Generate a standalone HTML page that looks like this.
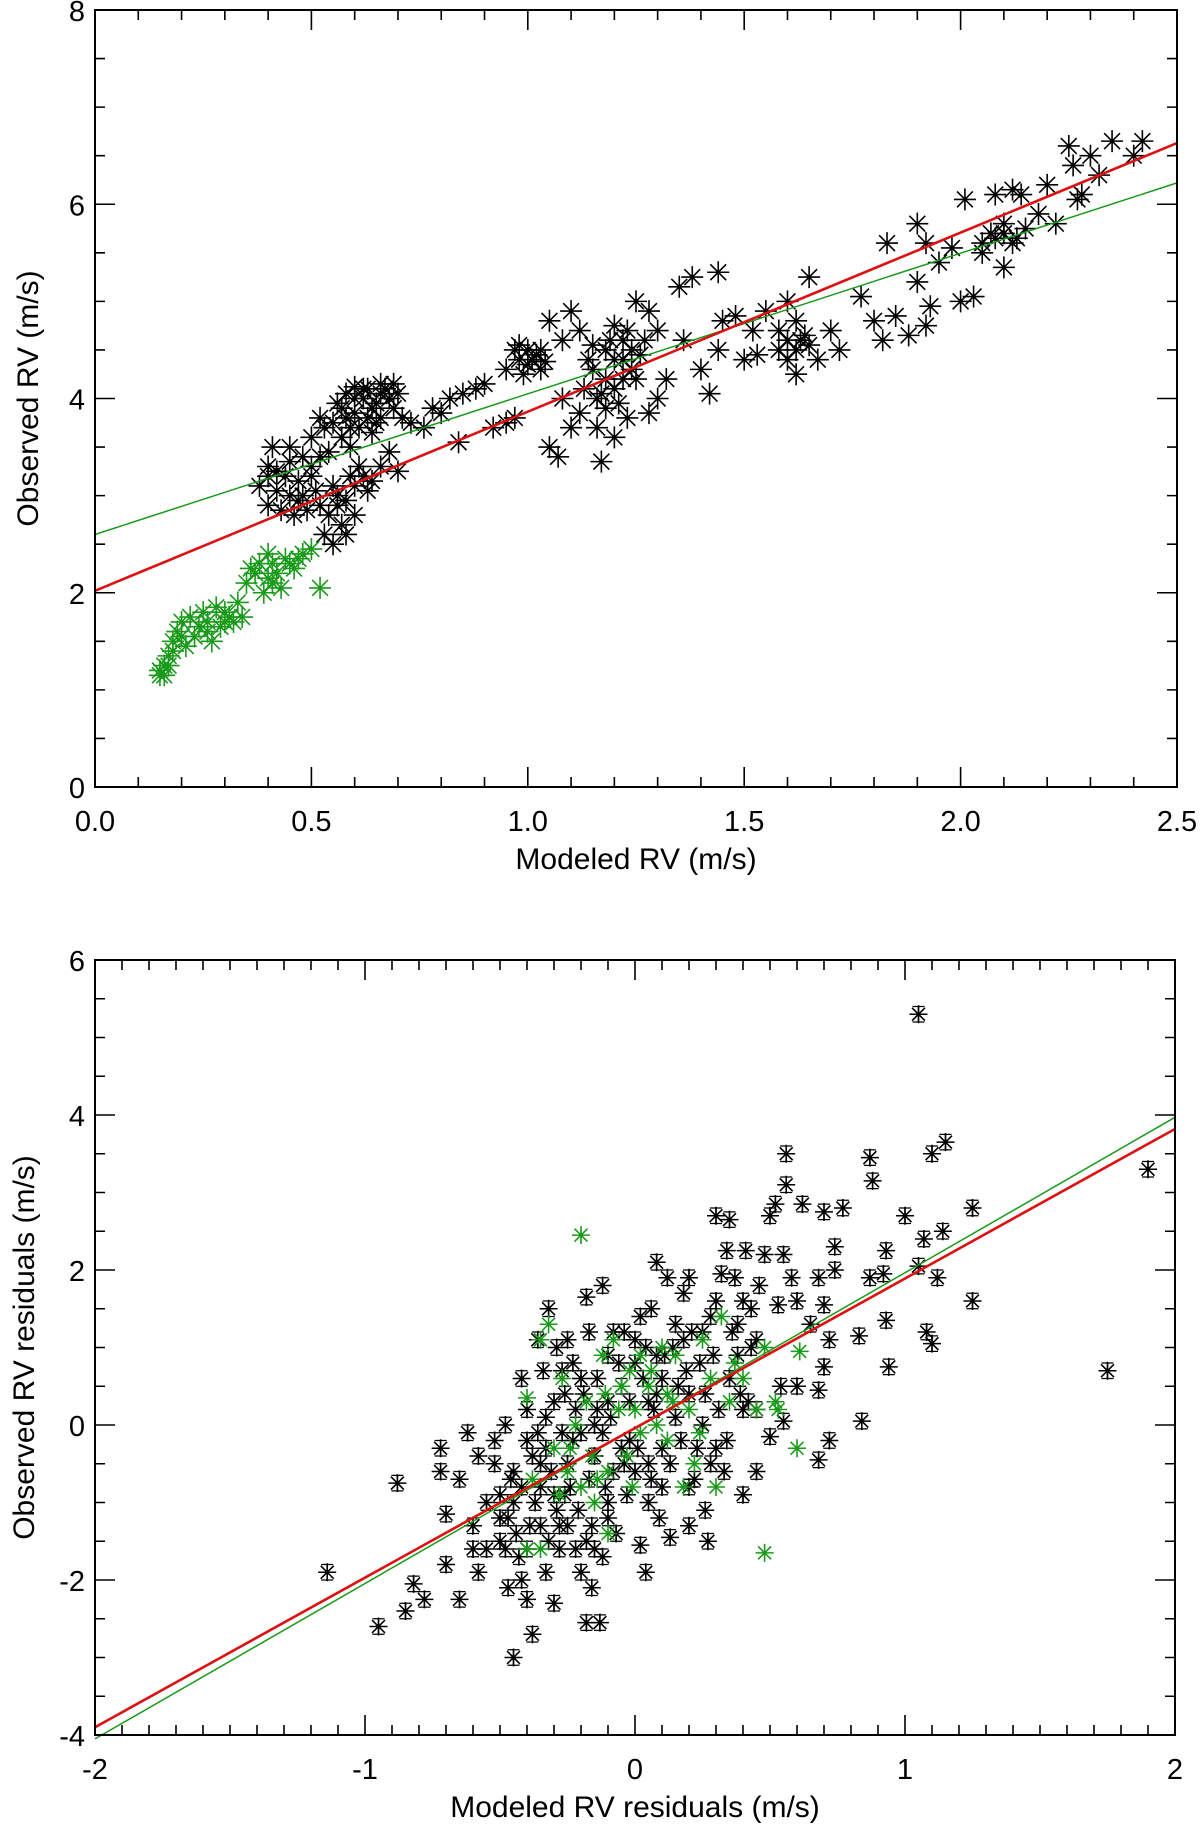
<!DOCTYPE html>
<html><head><meta charset="utf-8">
<style>
html,body{margin:0;padding:0;background:#fff;}
svg{display:block;font-family:"Liberation Sans",sans-serif;}
</style></head>
<body>
<svg id="fig" width="1200" height="1829" viewBox="0 0 1200 1829" xmlns="http://www.w3.org/2000/svg"></svg>
<script>
// ---- Panel 1 data ----
const topXTicks = ["0.0","0.5","1.0","1.5","2.0","2.5"];
const topYTicks = ["0","2","4","6","8"];
const topBlack = [[0.4,3.3],[0.42,3.25],[0.45,3.35],[0.38,3.1],[0.4,2.9],[0.43,2.85],[0.46,2.8],[0.48,3.0],[0.5,3.2],[0.52,2.9],[0.53,2.6],[0.55,2.5],[0.57,2.7],[0.58,2.95],[0.6,3.1],[0.62,3.2],[0.64,3.15],[0.66,3.3],[0.7,3.25],[0.68,3.45],[0.45,3.5],[0.5,3.6],[0.52,3.8],[0.55,3.75],[0.57,3.9],[0.58,4.05],[0.6,3.85],[0.62,4.0],[0.63,4.1],[0.65,3.95],[0.67,4.1],[0.69,4.15],[0.7,4.05],[0.66,3.8],[0.61,3.7],[0.64,3.65],[0.71,3.8],[0.73,3.75],[0.5,3.3],[0.47,3.15],[0.55,3.1],[0.41,3.5],[0.48,3.4],[0.59,3.5],[0.61,3.3],[0.56,3.0],[0.54,3.45],
[0.76,3.7],[0.78,3.9],[0.8,3.85],[0.82,4.0],[0.85,4.05],[0.88,4.1],[0.9,4.15],[0.84,3.55],[0.92,3.7],[0.95,3.75],[0.97,3.8],
[0.95,4.3],[0.98,4.4],[1.0,4.5],[1.02,4.45],[1.0,4.35],[0.97,4.5],[1.03,4.3],[1.05,4.8],[1.08,4.6],[1.1,4.9],[1.12,4.7],[1.05,3.5],[1.07,3.4],[1.1,3.7],[1.12,3.85],[1.08,4.0],[1.15,4.3],[1.18,4.5],[1.2,4.75],[1.22,4.4],[1.2,4.1],[1.18,3.9],[1.16,3.7],[1.17,3.35],[1.2,3.6],[1.23,3.8],[1.25,4.2],[1.27,4.6],[1.25,5.0],[1.28,4.9],[1.3,4.7],[1.32,4.2],[1.3,4.0],[1.28,3.85],[1.13,4.1],[1.15,4.55],[1.22,4.6],[1.24,4.3],[1.35,5.15],[1.38,5.25],[1.44,5.3],[1.36,4.6],[1.4,4.3],[1.42,4.05],[1.44,4.5],[1.45,4.8],[1.48,4.85],[1.5,4.4],[1.52,4.7],[1.55,4.9],[1.58,4.5],[1.6,5.0],[1.62,4.8],[1.63,4.6],[1.62,4.25],[1.65,5.25],[1.67,4.4],[1.7,4.7],[1.72,4.5],[1.65,4.55],[1.6,4.6],[1.53,4.45],
[1.77,5.05],[1.8,4.8],[1.83,5.6],[1.82,4.6],[1.85,4.85],[1.88,4.65],[1.9,5.8],[1.92,5.6],[1.9,5.2],[1.93,4.95],[1.92,4.75],[1.95,5.4],[1.98,5.55],[2.0,5.0],[2.01,6.05],[2.03,5.05],[2.05,5.6],[2.07,5.7],[2.08,6.1],[2.1,5.35],[2.12,6.15],[2.13,5.65],[2.1,5.8],[2.15,5.75],[2.18,5.9],[2.2,6.2],[2.22,5.8],[2.25,6.6],[2.26,6.4],[2.28,6.1],[2.3,6.5],[2.32,6.3],[2.35,6.65],[2.4,6.5],[2.42,6.65],[2.27,6.05],[2.14,6.1],[2.05,5.5],
[0.56,3.95],[0.58,3.8],[0.6,4.0],[0.62,4.1],[0.64,3.9],[0.66,4.05],[0.68,4.0],[0.69,3.9],[0.59,3.7],[0.63,3.8],[0.6,4.12],[0.66,4.15],[0.53,3.7],[0.57,3.6],[0.65,3.75],[0.42,3.05],[0.44,3.2],[0.47,2.95],[0.49,2.85],[0.51,3.05],[0.54,2.8],[0.56,2.9],[0.59,3.2],[0.63,3.05],[0.45,3.0],[0.4,3.2],[0.52,3.4],[0.6,2.8],[0.58,2.6],[0.98,4.55],[1.01,4.4],[1.03,4.5],[0.99,4.25],[1.04,4.38],[1.18,4.2],[1.2,4.4],[1.22,4.2],[1.19,4.6],[1.24,4.5],[1.21,3.95],[1.17,4.05],[1.23,4.7],[1.26,4.45],[1.14,4.4],[1.16,4.0],[1.62,4.5],[1.64,4.65],[1.6,4.4],[1.58,4.7],[2.1,5.7],[2.12,5.6],[2.08,5.65]];
const topGreen = [[0.15,1.15],[0.16,1.25],[0.17,1.35],[0.18,1.5],[0.19,1.6],[0.2,1.7],[0.21,1.45],[0.23,1.55],[0.24,1.65],[0.25,1.8],[0.26,1.7],[0.27,1.5],[0.28,1.85],[0.3,1.8],[0.31,1.75],[0.32,1.7],[0.33,1.9],[0.34,1.75],[0.35,2.1],[0.36,2.25],[0.38,2.3],[0.4,2.4],[0.41,2.1],[0.42,2.2],[0.43,2.05],[0.44,2.35],[0.45,2.3],[0.47,2.35],[0.48,2.4],[0.5,2.45],[0.52,2.05],[0.16,1.15],[0.22,1.75],[0.29,1.65],[0.39,2.0],[0.15,1.2],[0.17,1.25],[0.18,1.4],[0.2,1.55],[0.26,1.6],[0.3,1.7],[0.37,2.2],[0.4,2.15],[0.46,2.25],[0.41,2.3]];
const topRedFit = [[0,2.02],[2.5,6.63]];
const topGreenFit = [[0,2.6],[2.5,6.22]];

// ---- Panel 2 data ----
const botXTicks = ["-2","-1","0","1","2"];
const botYTicks = ["-4","-2","0","2","4","6"];
const botBlack = [[1.05,5.3],[1.9,3.3],[1.75,0.7],[-1.14,-1.9],[-0.95,-2.6],[-0.88,-0.75],[-0.85,-2.4],[-0.82,-2.05],[-0.78,-2.25],[-0.72,-0.3],[-0.72,-0.6],[-0.7,-1.8],[-0.7,-1.15],[-0.65,-2.25],[-0.62,-0.1],[-0.6,-1.6],[-0.58,-1.9],[-0.55,-1.0],[-0.52,-0.5],[-0.5,-1.2],[-0.48,0.0],[-0.48,-1.6],[-0.47,-2.1],[-0.45,-3.0],[-0.46,-0.7],[-0.44,-1.4],[-0.42,0.6],[-0.4,-2.25],[-0.4,-0.2],[-0.38,-2.7],[-0.37,-1.0],[-0.36,1.1],[-0.35,-0.5],[-0.34,0.7],[-0.33,-1.9],[-0.32,1.5],[-0.3,-2.3],[-0.3,0.3],[-0.29,1.0],[-0.28,-1.3],[-0.27,-0.1],[-0.26,0.4],[-0.25,1.1],[-0.24,-0.8],[-0.23,0.8],[-0.22,-1.6],[-0.2,-1.9],[-0.2,0.6],[-0.18,1.65],[-0.18,-2.55],[-0.17,1.2],[-0.16,-2.1],[-0.15,-0.4],[-0.14,0.2],[-0.13,-2.55],[-0.12,1.8],[-0.1,-1.2],[-0.1,0.9],[-0.08,-0.6],[-0.05,0.5],[-0.04,1.2],[-0.03,-0.9],[-0.02,-0.2],[0.0,0.8],[0.02,1.4],[0.02,-1.55],[0.04,-1.9],[0.05,-0.5],[0.06,1.5],[0.07,0.2],[0.08,2.1],[0.1,-0.8],[0.12,1.9],[0.13,-1.45],[0.15,1.3],[0.16,0.5],[0.18,1.7],[0.2,1.9],[0.2,-1.3],[0.22,-0.7],[0.24,0.8],[0.26,-1.1],[0.27,-1.5],[0.3,1.6],[0.3,2.7],[0.32,1.95],[0.33,-0.6],[0.34,2.25],[0.35,2.65],[0.36,1.2],[0.37,1.9],[0.4,-0.9],[0.4,1.6],[0.41,2.25],[0.43,1.0],[0.45,-0.6],[0.46,1.8],[0.48,2.2],[0.5,-0.15],[0.5,2.7],[0.52,2.85],[0.53,1.55],[0.54,0.5],[0.55,2.2],[0.55,0.05],[0.56,3.5],[0.56,3.1],[0.58,1.9],[0.6,1.6],[0.6,0.5],[0.62,2.85],[0.65,1.3],[0.68,1.9],[0.68,-0.45],[0.68,0.45],[0.7,1.55],[0.7,2.75],[0.7,0.75],[0.72,1.1],[0.72,-0.2],[0.74,2.0],[0.74,2.3],[0.77,2.8],[0.83,1.15],[0.84,0.05],[0.87,3.45],[0.87,1.9],[0.88,3.15],[0.92,1.95],[0.93,2.25],[0.93,1.35],[0.94,0.75],[1.0,2.7],[1.05,2.05],[1.07,2.4],[1.08,1.2],[1.1,3.5],[1.1,1.05],[1.12,1.9],[1.14,2.5],[1.15,3.65],[1.25,2.8],[1.25,1.6],[-0.55,-1.6],[-0.42,-2.0],[-0.35,-1.3],[-0.25,-0.5],[-0.15,0.0],[-0.05,-0.3],[0.05,0.3],[0.1,-0.3],[0.15,0.1],[0.25,0.0],[0.3,-0.3],[0.4,0.2],[-0.3,-0.9],[-0.2,-0.1],[-0.1,0.3],[0.0,-0.6],[0.1,0.6],[0.2,0.4],[0.35,0.6],[0.45,1.1],[-0.45,-0.6],[-0.5,-0.9],[-0.6,-1.3],[-0.65,-0.7],[-0.4,0.2],[-0.1,-1.0],[0.2,-0.8],[0.28,-0.5],[0.45,0.2],[-0.28,-1.6],[-0.15,-1.6],[0.05,-1.0],[-0.08,1.2],[0.25,1.2],[-0.4,-1.6],[-0.33,-0.3],[-0.22,0.2],[0.38,0.9],[0.42,0.3],[-0.58,-0.4],
[-0.45,-1.0],[-0.42,-0.8],[-0.38,-0.4],[-0.36,-0.1],[-0.33,0.1],[-0.31,-0.6],[-0.29,-1.1],[-0.27,0.7],[-0.25,-1.3],[-0.23,-0.2],[-0.21,-1.1],[-0.19,0.4],[-0.17,-0.7],[-0.16,-1.3],[-0.14,0.6],[-0.12,-0.1],[-0.11,-0.8],[-0.09,0.1],[-0.07,-1.4],[-0.06,0.8],[-0.04,-0.5],[-0.02,0.3],[0.01,-0.3],[0.03,0.6],[0.04,1.0],[0.06,-0.7],[0.08,0.4],[0.09,-1.2],[0.11,0.9],[0.13,-0.5],[0.14,1.0],[0.17,-0.2],[0.19,0.7],[0.21,1.2],[0.23,-0.3],[0.26,0.4],[0.29,0.9],[0.31,0.2],[0.34,-0.2],[0.39,0.4],[-0.52,-0.2],[-0.5,-1.5],[-0.47,-1.2],[-0.43,-1.7],[-0.39,-1.3],[-0.35,-0.8],[-0.32,-1.5],[-0.26,-0.9],[-0.18,-1.5],[-0.12,-1.7],[0.0,1.1],[0.08,0.9],[0.18,1.1],[0.28,1.4],[0.38,1.3],[0.43,1.5]];
const botGreen = [[-0.2,2.45],[0.48,-1.65],[0.6,-0.3],[0.61,0.95],[-0.32,1.3],[-0.4,0.35],[-0.35,1.1],[-0.38,-0.7],[-0.4,-1.6],[-0.35,-1.6],[-0.3,-0.3],[-0.25,-0.6],[-0.22,0.0],[-0.2,-0.8],[-0.18,0.3],[-0.15,-1.0],[-0.12,0.9],[-0.1,-0.6],[-0.1,-1.4],[-0.08,1.1],[-0.05,0.5],[-0.03,-0.4],[-0.02,0.7],[0.0,0.2],[0.02,-0.1],[0.05,0.5],[0.08,0.0],[0.1,1.0],[0.12,-0.2],[0.15,0.9],[0.18,-0.8],[0.2,0.2],[0.22,-0.5],[0.25,1.1],[0.28,0.6],[0.3,-0.8],[0.32,1.4],[0.35,0.3],[0.4,0.6],[0.45,0.2],[0.48,1.0],[0.52,0.3],[0.53,0.2],[-0.27,0.6],[-0.16,-0.4],[0.02,0.9],[0.12,0.4],[-0.28,-0.9],[-0.24,-0.3],[-0.14,-0.7],[-0.06,0.2],[-0.01,-0.8],[0.06,0.7],[0.14,0.3],[-0.11,0.4],[0.24,-0.1],[0.37,0.8]];
const botErr = 0.1;
const botRedFit = [[-2,-3.9],[2,3.82]];
const botGreenFit = [[-2,-4.05],[2,3.97]];

const NS = "http://www.w3.org/2000/svg";
const svg = document.getElementById('fig');
function mk(tag, attrs, parent){ const e=document.createElementNS(NS,tag); for(const k in attrs) e.setAttribute(k,attrs[k]); (parent||svg).appendChild(e); return e; }

function panel(cfg){
  const g = mk('g',{});
  
  
  const sx = v => cfg.x0 + (v - cfg.xmin)/(cfg.xmax-cfg.xmin)*(cfg.x1-cfg.x0);
  const sy = v => cfg.y1 - (v - cfg.ymin)/(cfg.ymax-cfg.ymin)*(cfg.y1-cfg.y0);
  function star(px,py,col,r,err,parent){
    const d = `M${px-r},${py}H${px+r}M${px},${py-r}V${py+r}M${px-r*0.72},${py-r*0.72}L${px+r*0.72},${py+r*0.72}M${px-r*0.72},${py+r*0.72}L${px+r*0.72},${py-r*0.72}`;
    const p = mk('path',{d:d,stroke:col,'stroke-width':1.6,fill:'none'},parent);
    
    
    if(err){
      const e1 = sy(err[0]), e2 = sy(err[1]);
      const q = mk('path',{d:`M${px},${e1}V${e2}M${px-6},${e1}H${px+6}M${px-6},${e2}H${px+6}`,stroke:col,'stroke-width':1.3,fill:'none'},parent);
      
      
    }
  }
  const gb = mk('g',{},g);
  
  
  cfg.black.forEach(p=>star(sx(p[0]),sy(p[1]),'#000',cfg.r,cfg.err!=null?[p[1]-cfg.err,p[1]+cfg.err]:null,gb));
  const gg = mk('g',{},g);
  
  
  cfg.green.forEach(p=>star(sx(p[0]),sy(p[1]),'#1a9a1a',cfg.r,null,gg));
  const gl = mk('line',{x1:sx(cfg.greenFit[0][0]),y1:sy(cfg.greenFit[0][1]),x2:sx(cfg.greenFit[1][0]),y2:sy(cfg.greenFit[1][1]),stroke:'#1a9a1a','stroke-width':1.5},g);
  
  
  const rl = mk('line',{x1:sx(cfg.redFit[0][0]),y1:sy(cfg.redFit[0][1]),x2:sx(cfg.redFit[1][0]),y2:sy(cfg.redFit[1][1]),stroke:'#dd1111','stroke-width':2.6},g);
  
  
  const fr = mk('rect',{x:cfg.x0,y:cfg.y0,width:cfg.x1-cfg.x0,height:cfg.y1-cfg.y0,fill:'none',stroke:'#000','stroke-width':2},g);
  
  
  let d='';
  const nx = Math.round((cfg.xmax-cfg.xmin)/cfg.xminor);
  for(let i=0;i<=nx;i++){ const v=cfg.xmin+i*cfg.xminor; const px=sx(v);
    const L = (i % cfg.xmajorEvery===0)?20:10;
    d+=`M${px},${cfg.y1}V${cfg.y1-L}M${px},${cfg.y0}V${cfg.y0+L}`; }
  const ny = Math.round((cfg.ymax-cfg.ymin)/cfg.yminor);
  for(let i=0;i<=ny;i++){ const v=cfg.ymin+i*cfg.yminor; const py=sy(v);
    const L = (i % cfg.ymajorEvery===0)?20:10;
    d+=`M${cfg.x0},${py}H${cfg.x0+L}M${cfg.x1},${py}H${cfg.x1-L}`; }
  const tk = mk('path',{d:d,stroke:'#000','stroke-width':1.6,fill:'none'},g);
  
  
  cfg.xTicks.forEach(t=>{
    const tx = mk('text',{x:sx(parseFloat(t)),y:cfg.y1+44,'font-size':29,'text-anchor':'middle',fill:'#000'},g);
    tx.textContent=t;
    
    
  });
  cfg.yTicks.forEach(t=>{
    const ty = mk('text',{x:cfg.x0-10,y:sy(parseFloat(t))+11,'font-size':29,'text-anchor':'end',fill:'#000'},g);
    ty.textContent=t;
    
    
  });
  const xt = mk('text',{x:(cfg.x0+cfg.x1)/2,y:cfg.y1+82,'font-size':30,'text-anchor':'middle',fill:'#000'},g);
  xt.textContent=cfg.xTitle;
  
  
  const yc=(cfg.y0+cfg.y1)/2;
  const yt = mk('text',{x:0,y:0,'font-size':30,'text-anchor':'middle',fill:'#000',transform:`translate(${cfg.ytx},${yc}) rotate(-90)`},g);
  yt.textContent=cfg.yTitle;
  
  
}

panel({name:'top-panel',x0:95,x1:1177,y0:10,y1:787,xmin:0,xmax:2.5,ymin:0,ymax:8,xminor:0.1,xmajorEvery:5,yminor:0.5,ymajorEvery:4,
  black:topBlack,green:topGreen,redFit:topRedFit,greenFit:topGreenFit,r:11,err:null,
  xTicks:topXTicks,yTicks:topYTicks,xTitle:'Modeled RV (m/s)',yTitle:'Observed RV (m/s)',ytx:38});
panel({name:'bottom-panel',x0:95,x1:1175,y0:960,y1:1735,xmin:-2,xmax:2,ymin:-4,ymax:6,xminor:0.1,xmajorEvery:10,yminor:0.5,ymajorEvery:4,
  black:botBlack,green:botGreen,redFit:botRedFit,greenFit:botGreenFit,r:9,err:botErr,
  xTicks:botXTicks,yTicks:botYTicks,xTitle:'Modeled RV residuals (m/s)',yTitle:'Observed RV residuals (m/s)',ytx:34});
</script>
</body></html>
